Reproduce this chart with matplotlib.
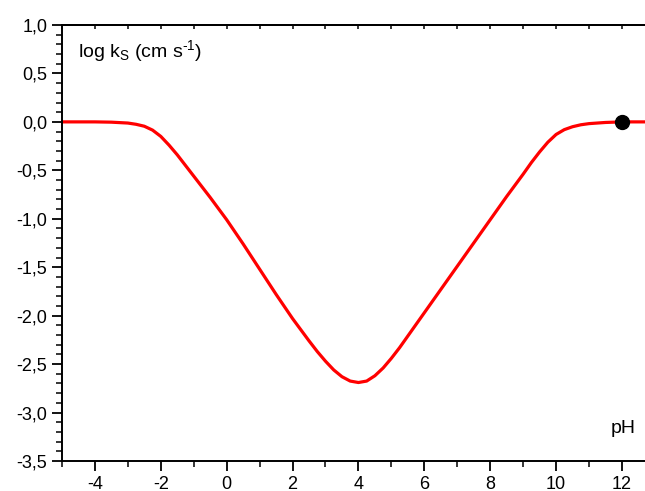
import matplotlib
matplotlib.use("Agg")
import matplotlib.pyplot as plt
from matplotlib.ticker import FuncFormatter, MultipleLocator

plt.rcParams["font.family"] = ["Liberation Sans", "DejaVu Sans"]
plt.rcParams["mathtext.default"] = "regular"

# log ks vs pH
ph = [-5, -4, -3.5, -3, -2.75, -2.5, -2.25, -2, -1.75, -1.5, -1.25, -1,
      -0.5, 0, 0.5, 1, 1.5, 2, 2.5, 2.75, 3, 3.25, 3.5, 3.75, 4, 4.25, 4.5,
      4.75, 5, 5.25, 5.5, 6, 6.5, 7, 7.5, 8, 8.5, 9, 9.25, 9.5, 9.75, 10,
      10.25, 10.5, 10.75, 11, 11.5, 12, 12.8]
log_ks = [0.0, 0.0, -0.003, -0.012, -0.025, -0.045, -0.085, -0.15, -0.24,
          -0.34, -0.45, -0.56, -0.78, -1.01, -1.26, -1.52, -1.78, -2.03,
          -2.26, -2.37, -2.47, -2.56, -2.63, -2.675, -2.69, -2.675, -2.62,
          -2.54, -2.44, -2.33, -2.21, -1.97, -1.73, -1.49, -1.25, -1.01,
          -0.77, -0.54, -0.42, -0.31, -0.21, -0.13, -0.08, -0.05, -0.03,
          -0.018, -0.006, 0.0, 0.0]
pt_ph = [12]
pt_log = [0.0]

fig = plt.figure(figsize=(6.45, 4.91), dpi=100)
ax = fig.add_axes([0.0961, 0.0611, 0.9039, 0.888])

ax.plot(ph, log_ks, color="#ff0000", lw=2.3, solid_joinstyle="round")
ax.plot(pt_ph, pt_log, "o", color="black", ms=10, zorder=5)

ax.set_xlim(-5, 12.7)
ax.set_ylim(-3.5, 1.0)
ax.spines["right"].set_visible(False)
for s in ("left", "bottom", "top"):
    ax.spines[s].set_linewidth(1.4)

ax.xaxis.set_major_locator(MultipleLocator(2))
ax.xaxis.set_minor_locator(MultipleLocator(1))
ax.yaxis.set_major_locator(MultipleLocator(0.5))
ax.yaxis.set_minor_locator(MultipleLocator(0.1))
ax.xaxis.set_major_formatter(FuncFormatter(lambda v, p: f"{v:.0f}"))
ax.yaxis.set_major_formatter(
    FuncFormatter(lambda v, p: f"{v:.1f}".replace(".", ",")))
ax.tick_params(which="major", direction="out", length=7, width=1.3,
               labelsize=13)
ax.tick_params(which="minor", direction="out", length=4, width=1.1)

top = ax.secondary_xaxis("top")
top.xaxis.set_major_locator(MultipleLocator(1))
top.tick_params(direction="in", length=3, width=1.1, labeltop=False)
top.spines["top"].set_linewidth(1.4)

ax.text(0.027, 0.94, "log k$_{S}$ (cm s$^{\u20101}$)",
        transform=ax.transAxes, fontsize=14, ha="left", va="center")
ax.text(0.962, 0.075, "pH", transform=ax.transAxes, fontsize=14,
        ha="center", va="center")

fig.savefig("out.png", dpi=100)
